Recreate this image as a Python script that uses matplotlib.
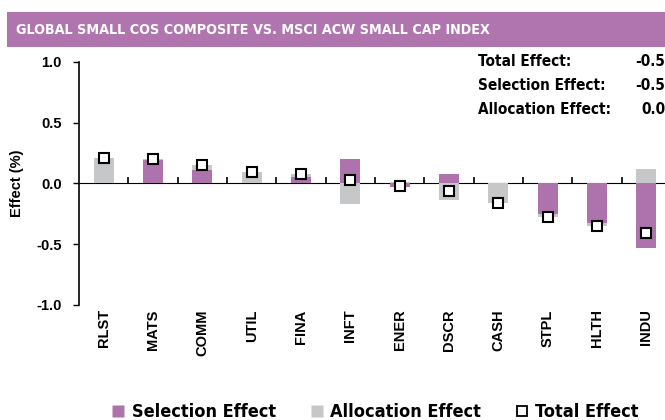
import matplotlib
matplotlib.use("Agg")
import matplotlib.pyplot as plt
from matplotlib import font_manager as fm
from matplotlib.lines import Line2D
import os
import numpy as np

categories = ["RLST", "MATS", "COMM", "UTIL", "FINA", "INFT", "ENER", "DSCR", "CASH", "STPL", "HLTH", "INDU"]
selection = [0.00, 0.19, 0.11, 0.00, 0.05, 0.20, -0.03, 0.08, 0.00, -0.25, -0.33, -0.53]
allocation = [0.21, 0.01, 0.04, 0.09, 0.03, -0.17, 0.01, -0.14, -0.16, -0.03, -0.02, 0.12]
total = [0.21, 0.20, 0.15, 0.09, 0.08, 0.03, -0.02, -0.06, -0.16, -0.28, -0.35, -0.41]
summary_labels = ["Total Effect:", "Selection Effect:", "Allocation Effect:"]
summary_values = ["-0.5", "-0.5", "0.0"]
title = "GLOBAL SMALL COS COMPOSITE VS. MSCI ACW SMALL CAP INDEX"
yticks = [-1.0, -0.5, 0.0, 0.5, 1.0]

PURPLE = "#AE72AD"
GRAY = "#C6C7C9"

paths = {os.path.basename(f.fname): f.fname for f in fm.fontManager.ttflist}


def fp(files, size, fallback_weight="bold"):
    for fn in files:
        if fn in paths:
            return fm.FontProperties(fname=paths[fn], size=size)
    return fm.FontProperties(family="DejaVu Sans", weight=fallback_weight, size=size)


W, H = 665, 420
fig = plt.figure(figsize=(W / 100, H / 100), dpi=100)

# Title banner
fig.patches.append(plt.Rectangle((7 / W, 1 - 46.5 / H), 1.0, 34.5 / H, transform=fig.transFigure,
                                 facecolor="#B074AE", edgecolor="none", zorder=0))
fig.text(16 / W, 1 - 29.5 / H, title, color="white",
         fontproperties=fp(["DejaVuSansCondensed-Bold.ttf"], 10.3), va="center", ha="left")

ax_left, ax_right = 79, 671
ax_top, ax_bot = 61.7, 305
ax = fig.add_axes([ax_left / W, 1 - ax_bot / H, (ax_right - ax_left) / W, (ax_bot - ax_top) / H])

x = np.arange(len(categories))
sel = np.array(selection)
alc = np.array(allocation)
alc_bottom = np.where(np.sign(alc) == np.sign(sel), sel, 0.0)
ax.bar(x, sel, width=0.4, color=PURPLE, zorder=2)
ax.bar(x, alc, bottom=alc_bottom, width=0.4, color=GRAY, zorder=2)
ax.plot(x, total, linestyle="none", marker="s", markersize=7.5, markerfacecolor="white",
        markeredgecolor="black", markeredgewidth=1.5, zorder=4)

tick_fp = fp(["LiberationSans-Bold.ttf", "Arimo-Bold.ttf"], 10.5)
ax.set_xlim(-0.5, len(categories) - 0.5)
ax.set_ylim(-1.0, 1.0)
ax.set_yticks(yticks)
ax.set_yticklabels([f"{v:.1f}" for v in yticks])
for t in ax.get_yticklabels():
    t.set_fontproperties(tick_fp)
ax.tick_params(axis="y", direction="out", length=4, width=1, pad=8.5)
ax.set_xticks(x)
ax.set_xticklabels(categories, rotation=90, va="top", ha="center")
for t in ax.get_xticklabels():
    t.set_fontproperties(tick_fp)
ax.tick_params(axis="x", length=0, pad=3)
for s in ["top", "right", "bottom"]:
    ax.spines[s].set_visible(False)
ax.spines["left"].set_linewidth(1.2)
ax.set_ylabel("Effect (%)", fontproperties=tick_fp, labelpad=9)

# zero line with separator ticks
sec = ax.secondary_xaxis(0.5)
sec.set_xticks(x[:-1] + 0.5)
sec.set_xticklabels([])
sec.tick_params(direction="out", length=4, width=1.2)
sec.spines["bottom"].set_linewidth(1.2)

# summary text
sum_fp = fp(["DejaVuSansCondensed-Bold.ttf"], 11)
ys = [61, 86, 110]
for lab, val, yy in zip(summary_labels, summary_values, ys):
    fig.text(478 / W, 1 - yy / H, lab, fontproperties=sum_fp, va="center", ha="left")
    fig.text(665 / W, 1 - yy / H, val, fontproperties=sum_fp, va="center", ha="right")

handles = [
    Line2D([], [], linestyle="none", marker="s", markersize=9, markerfacecolor=PURPLE, markeredgecolor="none"),
    Line2D([], [], linestyle="none", marker="s", markersize=9, markerfacecolor=GRAY, markeredgecolor="none"),
    Line2D([], [], linestyle="none", marker="s", markersize=7.5, markerfacecolor="white",
           markeredgecolor="black", markeredgewidth=1.3),
]
fig.legend(handles, ["Selection Effect", "Allocation Effect", "Total Effect"], loc="center",
           bbox_to_anchor=(374.5 / W, 1 - 412 / H), ncol=3, frameon=False,
           prop=fp(["DejaVuSansCondensed-Bold.ttf"], 13),
           handlelength=0.9, handletextpad=0.3, columnspacing=1.8, borderaxespad=0, borderpad=0)

fig.savefig("out.png", dpi=100)
